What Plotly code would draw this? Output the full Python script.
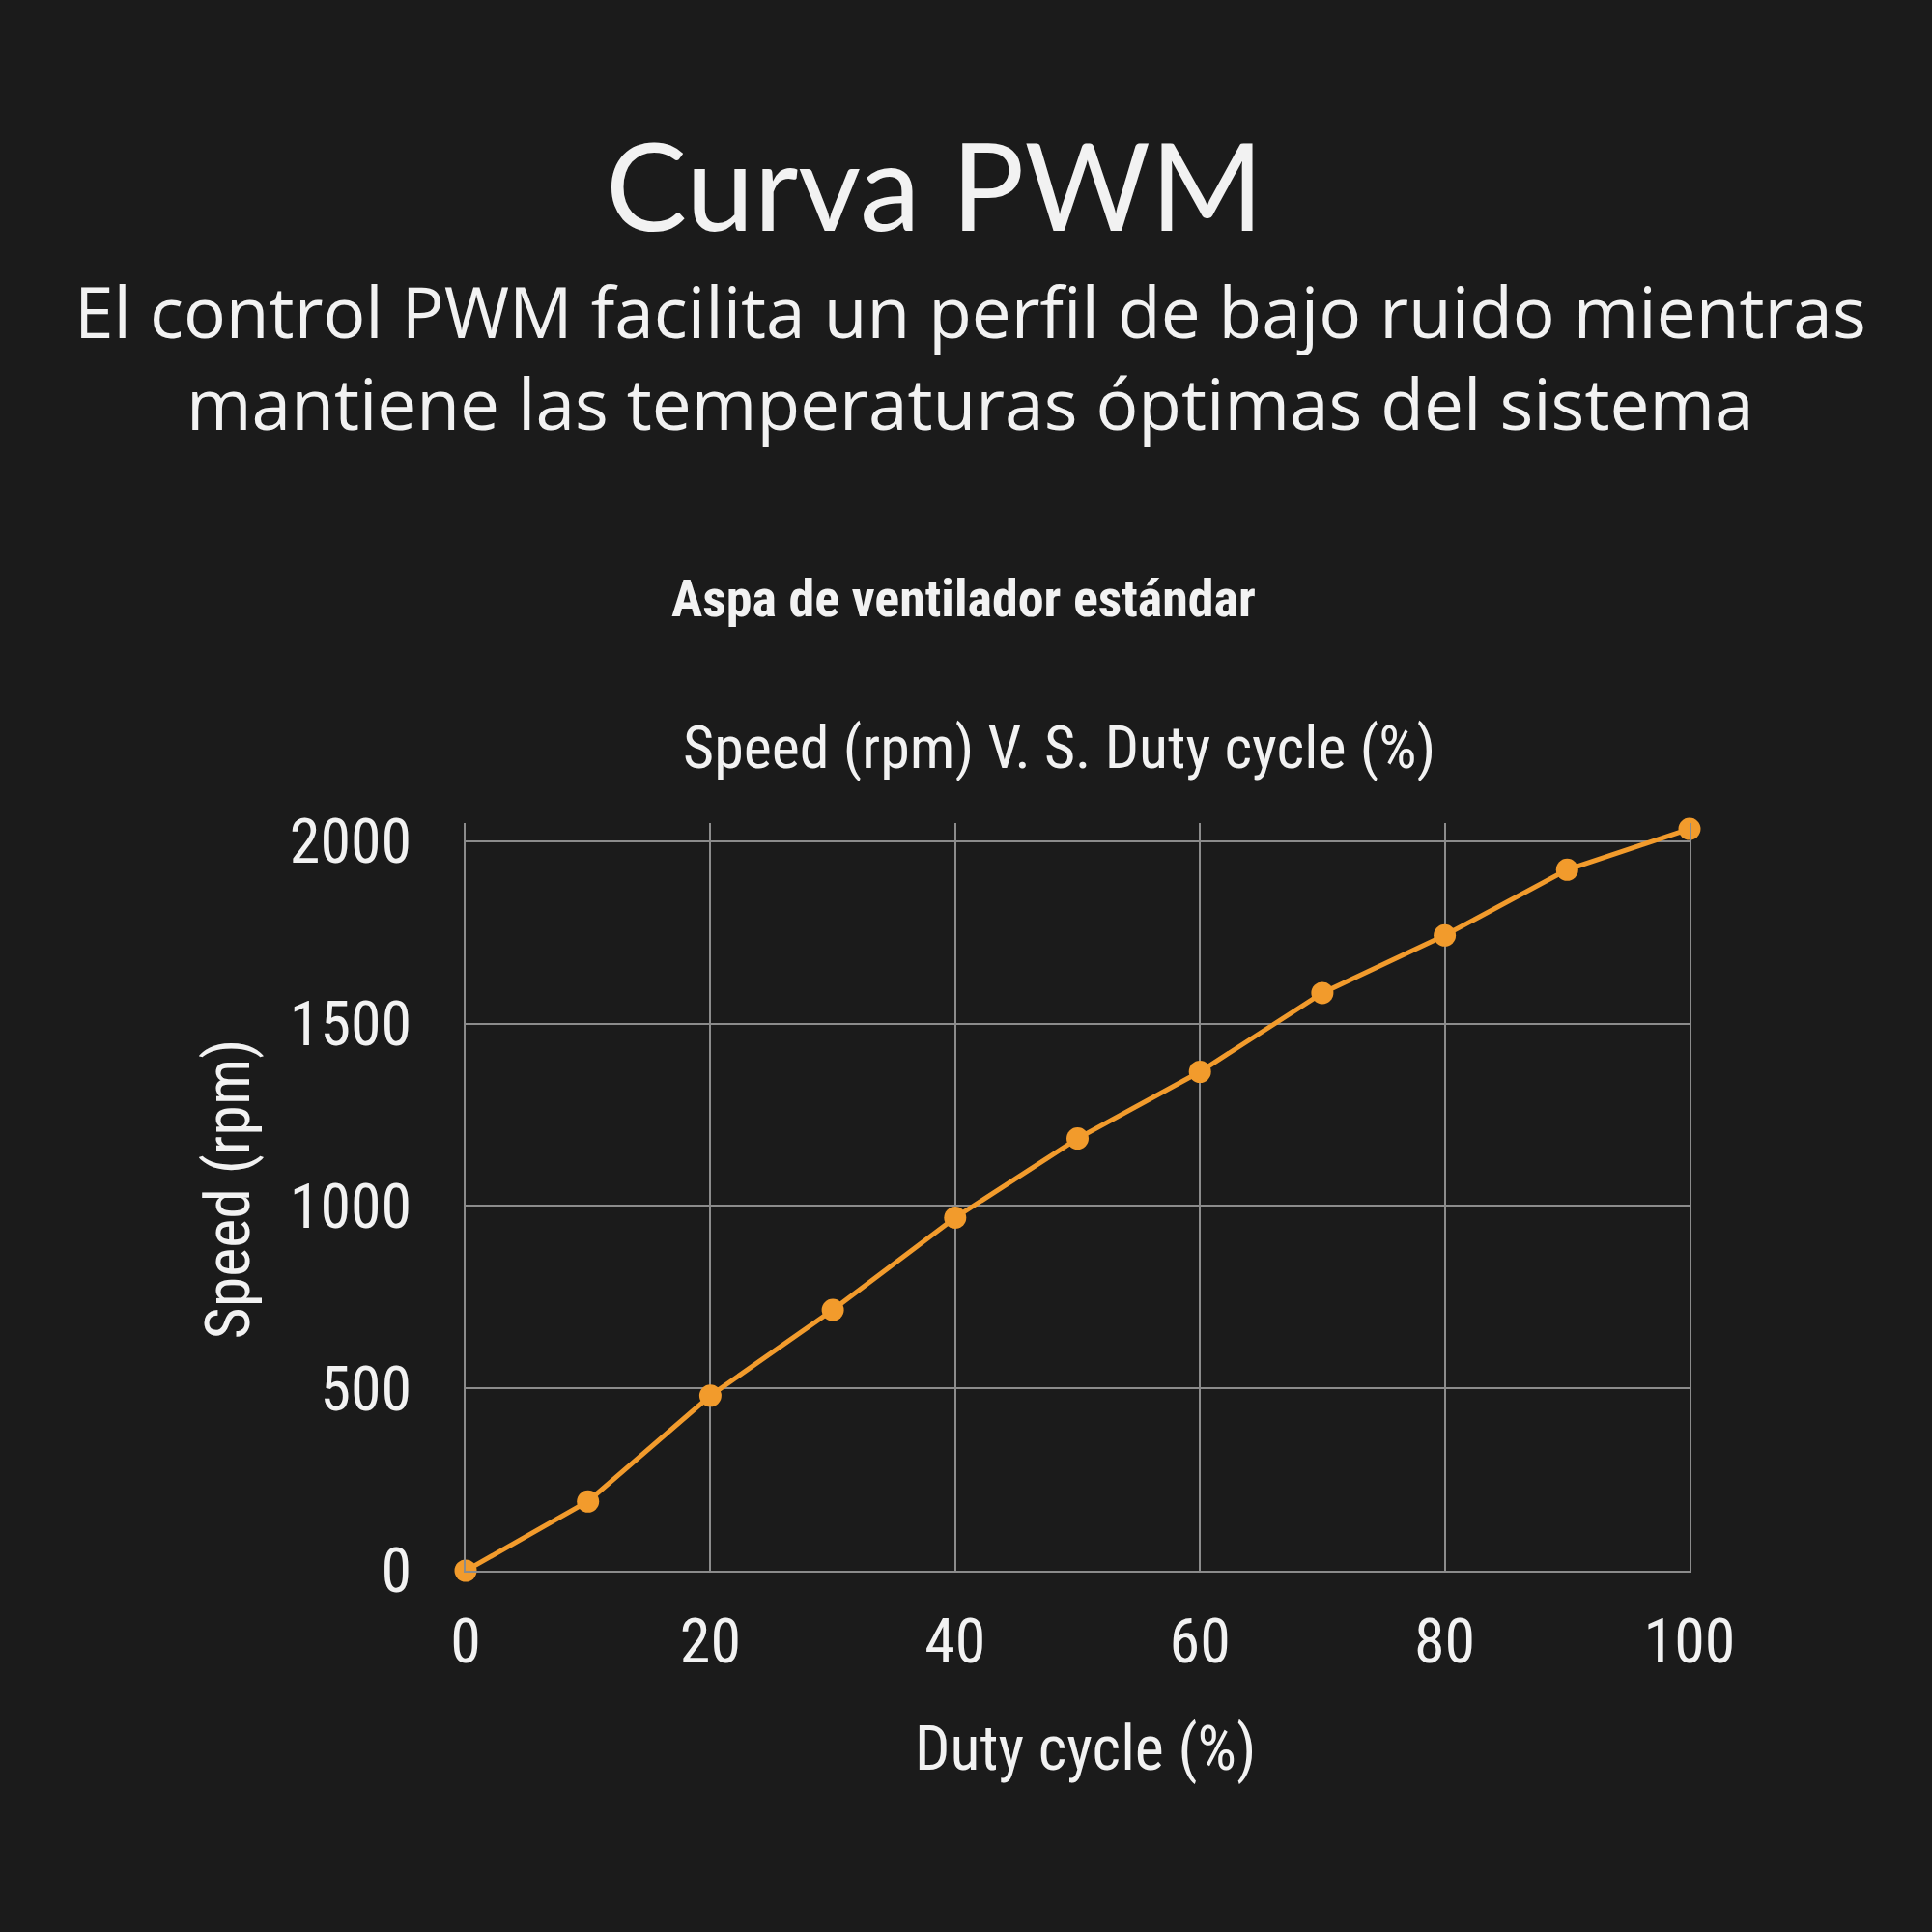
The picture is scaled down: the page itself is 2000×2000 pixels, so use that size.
import plotly.graph_objects as go

duty_cycle = [0, 10, 20, 30, 40, 50, 60, 70, 80, 90, 100]
speed_rpm = [0, 190, 480, 715, 968, 1185, 1368, 1584, 1742, 1922, 2034]
x_ticks = [0, 20, 40, 60, 80, 100]
y_ticks = [0, 500, 1000, 1500, 2000]

title_text = "Curva PWM"
subtitle_lines = ["El control PWM facilita un perfil de bajo ruido mientras",
                  "mantiene las temperaturas óptimas del sistema"]
chart_heading = "Aspa de ventilador estándar"
chart_title = "Speed (rpm) V. S. Duty cycle (%)"
x_title = "Duty cycle (%)"
y_title = "Speed (rpm)"

BG = "#1b1b1b"
ORANGE = "#f29b2c"
GRID = "#8c8c8c"
WHITE = "#f2f2f2"
COND = "Roboto Condensed, Liberation Sans Narrow, Roboto, sans-serif"
GEO = "Lato, Raleway, Inter, sans-serif"
SUB = "Open Sans, Lato, sans-serif"

fig = go.Figure()
fig.add_trace(go.Scatter(
    x=duty_cycle, y=speed_rpm, mode="lines+markers",
    line=dict(color=ORANGE, width=5),
    marker=dict(color=ORANGE, size=23),
    cliponaxis=False, showlegend=False,
))

fig.update_layout(
    width=2000, height=2000,
    paper_bgcolor=BG, plot_bgcolor=BG,
    margin=dict(l=482, r=251, t=852, b=374),
    font=dict(family=COND, color=WHITE),
)
fig.update_xaxes(
    range=[0, 100], tickvals=x_ticks, showgrid=True, gridcolor=GRID, gridwidth=2,
    zeroline=False, showline=True, linecolor=GRID, linewidth=2, mirror=False,
    ticks="outside", ticklen=16, tickcolor="rgba(0,0,0,0)",
    tickfont=dict(size=64, family=COND, color=WHITE),
)
fig.update_yaxes(
    range=[0, 2050], tickvals=y_ticks, showgrid=True, gridcolor=GRID, gridwidth=2,
    zeroline=False, showline=True, linecolor=GRID, linewidth=2, mirror=True,
    ticks="outside", ticklen=41, tickcolor="rgba(0,0,0,0)",
    tickfont=dict(size=64, family=COND, color=WHITE),
)

def ann(text, x, y, size, family, angle=0, bold=False):
    fig.add_annotation(text=f"<b>{text}</b>" if bold else text, x=x, y=y,
                       xref="paper", yref="paper", showarrow=False,
                       xanchor="center", yanchor="middle", textangle=angle,
                       font=dict(size=size, family=family, color=WHITE))

ann(title_text, 0.383, 1.855, 126, GEO)
ann(subtitle_lines[0], 0.412, 1.686, 73, SUB)
ann(subtitle_lines[1], 0.412, 1.563, 73, SUB)
ann(chart_heading, 0.407, 1.301, 54, COND, bold=True)
ann(chart_title, 0.485, 1.101, 62, COND)
ann(x_title, 0.507, -0.239, 64, COND)
ann(y_title, -0.194, 0.510, 64, COND, angle=-90)

fig.write_html("out.html", config={"displayModeBar": False},
               post_script="document.body.style.margin='0';document.body.style.background='#1b1b1b';")
